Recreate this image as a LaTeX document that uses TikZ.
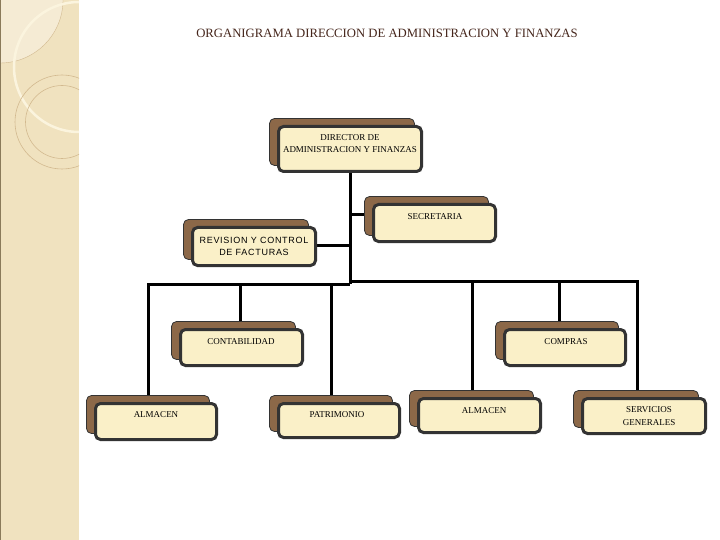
\documentclass[tikz,border=0pt]{standalone}
\usepackage{fontspec}
\setmainfont{Liberation Serif}
\newfontfamily\revfont[LetterSpace=8]{Liberation Sans}
\usetikzlibrary{backgrounds}
\definecolor{sidebar}{HTML}{F0E2BF}
\definecolor{sidelight}{HTML}{F5EBD4}
\definecolor{sideline}{HTML}{D2B98F}
\definecolor{sideedge}{HTML}{8A7A5A}
\definecolor{arccream}{HTML}{FBF4DE}
\definecolor{backbrown}{HTML}{8C6848}
\definecolor{frontcream}{HTML}{FAF0C8}
\definecolor{frontedge}{HTML}{333333}
\definecolor{titlebrown}{HTML}{45251B}
\tikzset{
  backbox/.style={draw=black!80, line width=0.8pt, fill=backbrown, rounded corners=5pt, inner sep=0pt},
  frontbox/.style={draw=frontedge, line width=3pt, fill=frontcream, rounded corners=5pt, inner sep=0pt},
  boxtext/.style={font=\fontsize{9}{12.5}\selectfont, align=center, inner sep=0pt, text=black},
  conn/.style={draw=black, line width=3pt, line join=miter},
}
\newcommand\orgbox[8]{%
  \node[backbox, minimum width=#4pt+2pt, minimum height=#5pt+2pt] (#1B) at ({#2-8},{#3-7}) {};
  \node[frontbox, minimum width=#4pt, minimum height=#5pt] (#1) at (#2,#3) {};
  \node[boxtext] (#1T) at (#6,#7) {#8};
}
\begin{document}
\begin{tikzpicture}[x=1pt,y=-1pt]
\useasboundingbox (0,0) rectangle (720,540);
% sidebar
\fill[sidebar] (0,0) rectangle (79,540);
\begin{scope}
  \clip (0,0) rectangle (79,540);
  \fill[sidelight] (0,0) circle[radius=63];
  \draw[sideline, line width=0.4pt] (0,0) circle[radius=63];
  \draw[arccream, line width=2.5pt] (79,67) circle[radius=65];
  \draw[sideline, line width=0.6pt] (62,122) circle[radius=47];
  \draw[sideline, line width=0.6pt] (62,122) circle[radius=36.5];
\end{scope}
\draw[sideedge, line width=1pt] (0.5,0) -- (0.5,540);
% title
\node[font=\fontsize{12.7}{15}\selectfont, text=titlebrown, inner sep=0pt] (title) at (387,33) {ORGANIGRAMA DIRECCION DE ADMINISTRACION Y FINANZAS};
% boxes
\orgbox{dir}{350}{149}{143}{45}{350}{143.5}{DIRECTOR DE\\ADMINISTRACION Y FINANZAS}
\orgbox{sec}{434.5}{223}{122}{37}{435}{217}{SECRETARIA}
\orgbox{rev}{254}{246.5}{123}{38}{254}{246.5}{\revfont REVISION Y CONTROL\\\revfont DE FACTURAS}
\orgbox{cont}{241.5}{347.5}{122}{36}{241}{342}{CONTABILIDAD}
\orgbox{comp}{565}{347.5}{121}{36}{566}{342}{COMPRAS}
\orgbox{almA}{156}{421.5}{121}{36}{156}{415}{ALMACEN}
\orgbox{pat}{339}{420.5}{121}{34}{337}{415}{PATRIMONIO}
\orgbox{almB}{479.5}{415.5}{122}{34}{484}{411}{ALMACEN}
\orgbox{serv}{644}{416}{123}{35}{649}{416}{SERVICIOS\\GENERALES}
% connectors
\coordinate (hub) at (350,284);
\coordinate (hubR) at (350,281);
\coordinate (busL) at (148,284);
\coordinate (busR) at (637,281);
\coordinate (secJ) at (350,215);
\coordinate (revJ) at (350,245);
\coordinate (dropA) at (240,284);
\coordinate (dropB) at (331,284);
\coordinate (dropC) at (472,281);
\coordinate (dropD) at (559,281);
\begin{scope}[on background layer]
  \draw[conn] (dir.south) -- (hub);
  \draw[conn] (busL |- almAB.north) -- (busL) -- (hub);
  \draw[conn] (busR |- servB.north) -- (busR) -- (hubR);
  \draw[conn] (secJ) -- (secJ -| sec.west);
  \draw[conn] (revJ) -- (revJ -| rev.east);
  \draw[conn] (dropA) -- (dropA |- contB.north);
  \draw[conn] (dropB) -- (dropB |- patB.north);
  \draw[conn] (dropC) -- (dropC |- almBB.north);
  \draw[conn] (dropD) -- (dropD |- compB.north);
\end{scope}
\end{tikzpicture}
\end{document}
